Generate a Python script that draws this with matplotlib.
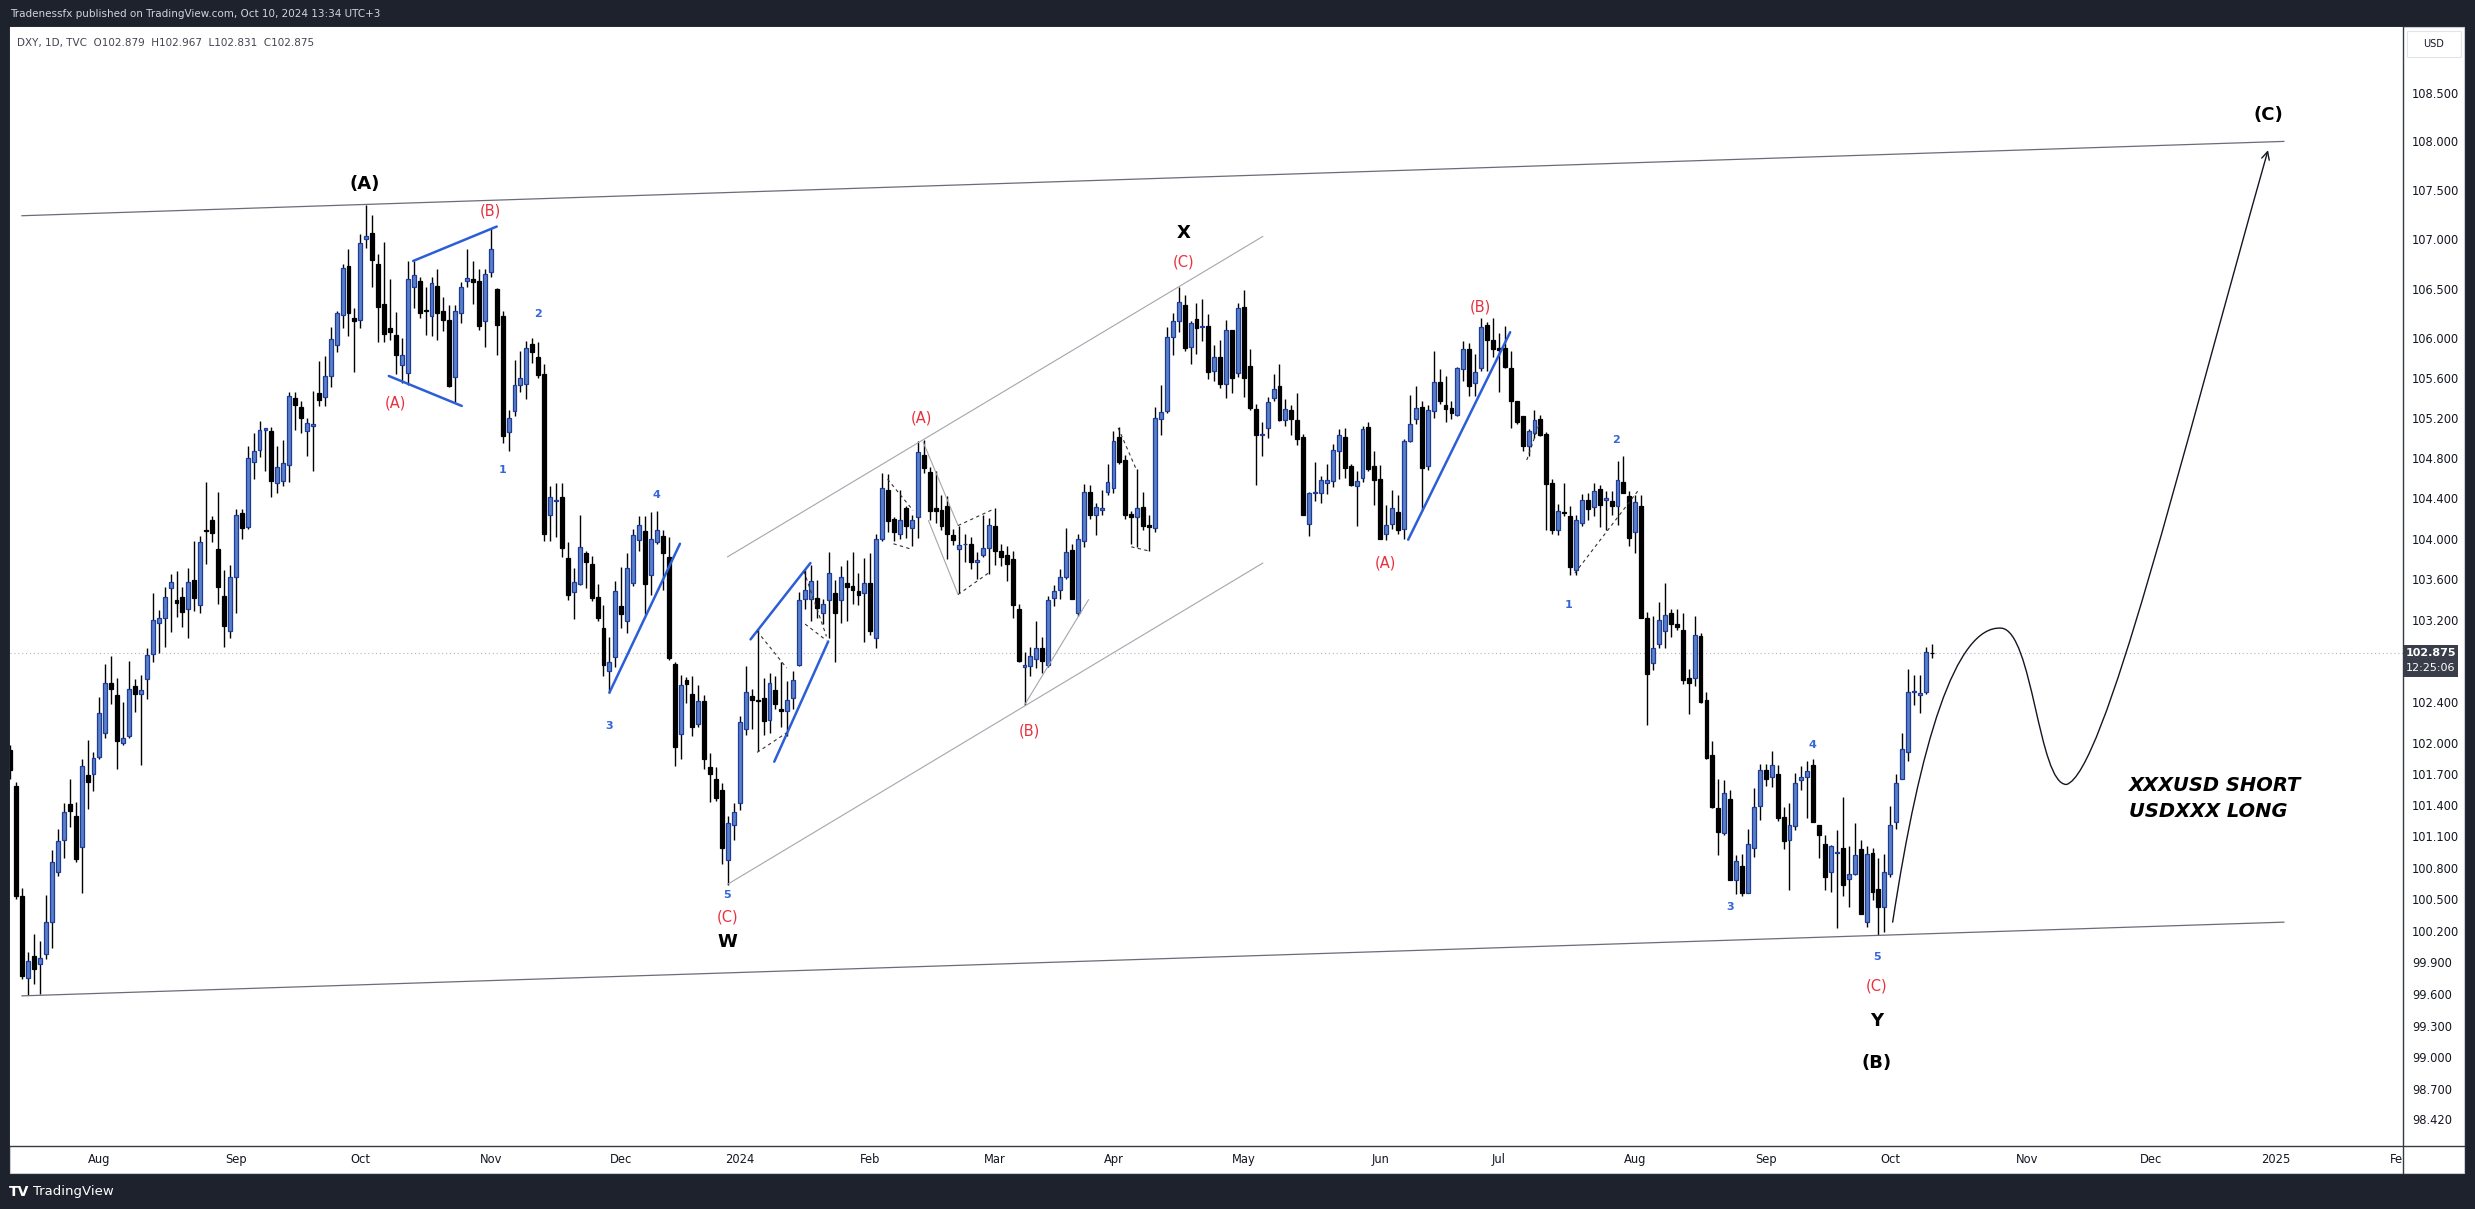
import matplotlib
matplotlib.use("Agg")
import numpy as np
import pandas as pd
import matplotlib.pyplot as plt
from matplotlib.path import Path
from matplotlib.patches import FancyArrowPatch, Rectangle
from matplotlib.lines import Line2D
from matplotlib.ticker import NullLocator
from matplotlib.transforms import IdentityTransform

plt.rcParams['font.family'] = ['DejaVu Sans']

W, H = 2475, 1209

# DXY daily candles, 11 Jul 2023 .. 10 Oct 2024
opens = [
    101.93, 101.59, 100.53, 99.75, 99.96, 99.88, 99.98, 100.28, 100.76, 101.07,
    101.41, 101.30, 101.00, 101.69, 101.70, 101.87, 102.10, 102.58, 102.47, 102.00,
    102.07, 102.55, 102.48, 102.62, 102.87, 103.17, 103.22, 103.51, 103.40, 103.43,
    103.31, 103.59, 103.35, 104.09, 104.18, 103.90, 103.44, 103.09, 103.62, 104.25,
    104.12, 104.76, 104.88, 105.08, 105.07, 104.55, 104.57, 104.73, 105.40, 105.31,
    105.07, 105.12, 105.45, 105.41, 105.62, 105.93, 106.23, 106.73, 106.20, 106.18,
    107.00, 107.06, 106.75, 106.34, 106.10, 106.03, 105.73, 105.65, 106.52, 106.58,
    106.28, 106.22, 106.53, 106.27, 106.18, 105.61, 106.25, 106.58, 106.60, 106.58,
    106.17, 106.67, 106.50, 106.22, 105.06, 105.27, 105.53, 105.54, 105.94, 105.81,
    105.64, 104.23, 104.37, 104.41, 103.81, 103.47, 103.55, 103.86, 103.75, 103.43,
    103.12, 102.70, 102.84, 103.34, 103.19, 103.56, 103.99, 104.08, 103.64, 103.97,
    104.03, 103.82, 102.77, 102.09, 102.61, 102.48, 102.19, 102.41, 101.77, 101.65,
    101.55, 100.87, 101.21, 101.42, 102.14, 102.46, 102.42, 102.44, 102.22, 102.52,
    102.33, 102.31, 102.44, 102.76, 103.41, 103.41, 103.42, 103.27, 103.40, 103.46,
    103.40, 103.56, 103.53, 103.48, 103.46, 103.56, 103.02, 104.00, 104.48, 104.19,
    104.05, 104.30, 104.11, 104.21, 104.83, 104.66, 104.30, 104.28, 104.32, 104.04,
    103.90, 103.95, 103.95, 103.77, 103.84, 103.91, 104.13, 103.88, 103.84, 103.80,
    103.31, 102.74, 102.75, 102.82, 102.93, 102.76, 103.42, 103.49, 103.62, 103.89,
    103.27, 103.98, 104.46, 104.23, 104.28, 104.46, 104.50, 105.01, 104.78, 104.24,
    104.21, 104.31, 104.14, 104.11, 105.19, 105.27, 106.01, 106.17, 106.33, 105.91,
    106.19, 106.11, 106.12, 105.67, 105.81, 105.54, 106.08, 105.65, 106.31, 105.72,
    105.29, 105.03, 105.10, 105.40, 105.52, 105.18, 105.28, 105.18, 105.01, 104.15,
    104.45, 104.45, 104.55, 104.57, 104.87, 105.01, 104.72, 104.52, 104.60, 105.11,
    104.72, 104.59, 104.05, 104.15, 104.26, 104.10, 104.97, 105.19, 105.31, 104.72,
    105.27, 105.56, 105.33, 105.30, 105.23, 105.69, 105.89, 105.55, 105.70, 106.13,
    105.98, 105.90, 105.90, 105.70, 105.37, 105.22, 104.92, 105.05, 105.19, 105.04,
    104.55, 104.09, 104.26, 104.22, 103.69, 104.16, 104.38, 104.31, 104.49, 104.38,
    104.37, 104.32, 104.56, 104.42, 104.07, 104.32, 103.22, 102.78, 102.96, 103.09,
    103.27, 103.16, 103.10, 102.63, 102.63, 103.04, 102.42, 101.88, 101.37, 101.13,
    101.46, 100.68, 100.82, 100.56, 100.99, 101.39, 101.74, 101.67, 101.70, 101.29,
    101.07, 101.20, 101.64, 101.67, 101.79, 101.21, 101.03, 100.76, 100.94, 100.99,
    100.69, 100.74, 100.98, 100.28, 100.94, 100.60, 100.42, 100.74, 101.24, 101.65,
    101.91, 102.50, 102.47, 102.50, 102.879,
]
highs = [
    101.98, 101.62, 100.61, 100.00, 100.17, 100.10, 100.54, 100.97, 101.17, 101.42,
    101.65, 101.43, 101.85, 102.03, 101.91, 102.45, 102.77, 102.85, 102.63, 102.40,
    102.80, 102.62, 102.66, 102.93, 103.46, 103.30, 103.52, 103.65, 103.68, 103.52,
    103.71, 103.98, 104.03, 104.56, 104.22, 104.46, 103.69, 103.74, 104.29, 104.29,
    104.92, 105.05, 105.17, 105.10, 105.11, 104.92, 104.98, 105.46, 105.46, 105.37,
    105.20, 105.47, 105.77, 105.82, 106.11, 106.27, 106.75, 106.90, 106.30, 107.05,
    107.35, 107.25, 106.85, 106.97, 106.60, 106.26, 106.00, 106.78, 106.78, 106.62,
    106.52, 106.62, 106.70, 106.42, 106.33, 106.33, 106.57, 106.90, 106.78, 106.70,
    106.70, 107.12, 106.51, 106.27, 105.28, 105.78, 105.87, 105.97, 106.00, 105.96,
    105.74, 104.52, 104.55, 104.55, 103.97, 103.71, 104.23, 103.88, 103.83, 103.55,
    103.35, 103.03, 103.58, 103.72, 103.86, 104.10, 104.22, 104.22, 104.26, 104.27,
    104.09, 104.02, 102.79, 102.66, 102.64, 102.65, 102.56, 102.47, 101.90, 101.77,
    101.61, 101.30, 101.42, 102.26, 102.75, 102.53, 103.11, 102.63, 102.68, 102.65,
    102.79, 102.60, 102.70, 103.47, 103.69, 103.74, 103.59, 103.41, 103.87, 103.59,
    103.73, 103.79, 103.87, 103.66, 103.81, 103.86, 104.05, 104.65, 104.64, 104.21,
    104.48, 104.32, 104.23, 104.97, 104.98, 104.71, 104.67, 104.43, 104.42, 104.10,
    104.13, 104.05, 104.02, 103.87, 104.23, 104.20, 104.30, 103.95, 103.93, 103.88,
    103.36, 102.89, 102.94, 103.19, 103.03, 103.44, 103.54, 103.70, 104.11, 103.95,
    104.05, 104.54, 104.53, 104.35, 104.48, 104.74, 105.07, 105.11, 104.83, 104.27,
    104.69, 104.46, 104.23, 105.31, 105.53, 106.11, 106.25, 106.52, 106.44, 106.17,
    106.35, 106.40, 106.24, 105.93, 105.98, 106.18, 106.08, 106.35, 106.49, 105.89,
    105.34, 105.16, 105.41, 105.64, 105.74, 105.39, 105.33, 105.45, 105.04, 104.46,
    104.76, 104.62, 104.74, 104.94, 105.09, 105.10, 104.74, 104.67, 105.12, 105.16,
    104.87, 104.73, 104.33, 104.48, 104.43, 104.99, 105.43, 105.52, 105.37, 105.33,
    105.87, 105.69, 105.62, 105.37, 105.71, 105.97, 105.95, 105.84, 106.20, 106.16,
    106.20, 106.05, 106.12, 105.87, 105.37, 105.22, 105.09, 105.28, 105.23, 105.06,
    104.59, 104.34, 104.55, 104.32, 104.23, 104.44, 104.45, 104.55, 104.53, 104.47,
    104.47, 104.77, 104.82, 104.47, 104.43, 104.43, 103.28, 103.24, 103.38, 103.56,
    103.31, 103.31, 103.27, 102.72, 103.24, 103.07, 102.50, 102.02, 101.65, 101.64,
    101.55, 100.92, 100.93, 101.17, 101.57, 101.80, 101.80, 101.92, 101.79, 101.38,
    101.42, 101.71, 101.78, 101.83, 101.85, 101.21, 101.11, 101.02, 101.16, 101.48,
    101.01, 101.23, 101.07, 101.01, 100.99, 100.89, 100.93, 101.39, 101.70, 102.10,
    102.72, 102.66, 102.66, 102.94, 102.967,
]
lows = [
    101.65, 100.50, 99.74, 99.59, 99.69, 99.60, 99.93, 100.03, 100.72, 100.89,
    101.19, 100.85, 100.56, 101.36, 101.54, 101.85, 102.05, 102.38, 101.75, 101.98,
    102.05, 102.30, 101.79, 102.43, 102.79, 102.88, 102.94, 103.08, 103.23, 103.13,
    103.02, 103.29, 103.27, 103.75, 103.97, 103.36, 102.94, 103.02, 103.27, 104.00,
    104.10, 104.59, 104.81, 104.67, 104.41, 104.45, 104.52, 104.56, 105.08, 105.05,
    104.82, 104.67, 105.32, 105.32, 105.51, 105.86, 106.10, 106.02, 105.66, 106.10,
    106.91, 106.52, 105.96, 105.96, 105.98, 105.64, 105.55, 105.53, 106.30, 106.20,
    106.03, 106.02, 105.98, 106.07, 105.51, 105.36, 106.15, 106.52, 106.34, 106.08,
    105.91, 106.62, 105.83, 104.95, 104.87, 105.22, 105.46, 105.39, 105.75, 105.60,
    103.98, 103.98, 104.02, 103.82, 103.40, 103.21, 103.54, 103.51, 103.39, 103.19,
    102.65, 102.49, 102.74, 103.12, 103.07, 103.53, 103.88, 103.26, 103.45, 103.95,
    103.49, 102.81, 101.78, 101.85, 102.39, 102.07, 102.16, 101.75, 101.43, 101.44,
    100.84, 100.63, 101.07, 101.35, 102.08, 102.14, 101.92, 102.08, 102.10, 102.33,
    102.16, 102.07, 102.33, 102.75, 103.31, 103.19, 103.22, 103.16, 103.02, 102.79,
    103.17, 103.19, 103.36, 103.35, 102.98, 103.05, 102.93, 103.98, 104.07, 103.98,
    104.00, 104.01, 103.93, 104.01, 104.65, 104.18, 104.16, 104.09, 103.80, 103.94,
    103.46, 103.77, 103.70, 103.60, 103.82, 103.65, 103.74, 103.73, 103.58, 103.22,
    102.79, 102.37, 102.65, 102.73, 102.68, 102.74, 103.34, 103.41, 103.60, 103.41,
    103.24, 103.92, 104.19, 104.04, 104.23, 104.43, 104.45, 104.74, 104.19, 103.95,
    103.92, 104.09, 103.88, 104.07, 105.03, 105.25, 105.83, 106.06, 105.87, 105.74,
    105.84, 105.97, 105.59, 105.57, 105.50, 105.40, 105.45, 105.61, 105.41, 105.28,
    104.53, 104.82, 105.00, 105.37, 105.17, 105.12, 105.03, 104.93, 104.23, 104.03,
    104.37, 104.35, 104.44, 104.51, 104.59, 104.60, 104.52, 104.13, 104.56, 104.67,
    104.33, 104.00, 103.99, 104.10, 104.05, 104.00, 104.96, 105.14, 104.27, 104.68,
    105.20, 105.34, 105.16, 105.19, 105.22, 105.57, 105.42, 105.42, 105.67, 105.67,
    105.81, 105.46, 105.70, 105.10, 105.14, 104.87, 104.82, 105.00, 105.02, 104.09,
    104.05, 104.04, 104.22, 103.64, 103.64, 104.13, 104.18, 104.22, 104.12, 104.09,
    104.23, 104.14, 104.45, 103.93, 103.86, 103.22, 102.18, 102.71, 102.93, 102.93,
    103.03, 103.10, 102.57, 102.28, 102.55, 102.39, 101.85, 101.37, 100.92, 101.11,
    100.68, 100.55, 100.53, 100.56, 100.90, 101.26, 101.59, 101.58, 101.25, 100.98,
    100.59, 101.16, 101.55, 101.28, 101.24, 100.89, 100.59, 100.57, 100.22, 100.53,
    100.42, 100.73, 100.36, 100.23, 100.49, 100.16, 100.19, 100.71, 101.17, 101.65,
    101.83, 102.37, 102.29, 102.48, 102.831,
]
closes = [
    101.74, 100.53, 99.77, 99.91, 99.83, 99.94, 100.28, 100.85, 101.06, 101.33,
    101.34, 100.88, 101.78, 101.62, 101.86, 102.29, 102.58, 102.53, 102.02, 102.05,
    102.53, 102.48, 102.52, 102.86, 103.20, 103.22, 103.43, 103.57, 103.37, 103.28,
    103.57, 103.42, 103.97, 104.08, 104.06, 103.52, 103.14, 103.62, 104.23, 104.11,
    104.80, 104.87, 105.08, 105.10, 104.57, 104.71, 104.75, 105.42, 105.33, 105.20,
    105.15, 105.14, 105.38, 105.62, 105.99, 106.25, 106.71, 106.25, 106.17, 106.96,
    107.03, 106.79, 106.31, 106.04, 106.06, 105.83, 105.83, 106.60, 106.64, 106.25,
    106.27, 106.56, 106.25, 106.18, 105.52, 106.27, 106.52, 106.61, 106.57, 106.12,
    106.65, 106.90, 106.13, 105.02, 105.20, 105.53, 105.60, 105.90, 105.86, 105.63,
    104.05, 104.41, 104.38, 103.91, 103.45, 103.57, 103.92, 103.77, 103.42, 103.22,
    102.76, 102.79, 103.48, 103.26, 103.71, 104.04, 104.14, 103.55, 104.00, 104.09,
    103.86, 102.83, 101.96, 102.56, 102.57, 102.16, 102.41, 101.85, 101.70, 101.47,
    100.99, 101.23, 101.33, 102.20, 102.50, 102.42, 102.41, 102.21, 102.58, 102.38,
    102.31, 102.42, 102.61, 103.40, 103.49, 103.58, 103.32, 103.36, 103.66, 103.27,
    103.62, 103.52, 103.49, 103.45, 103.56, 103.09, 104.00, 104.50, 104.17, 104.07,
    104.18, 104.13, 104.18, 104.86, 104.70, 104.27, 104.27, 104.13, 104.05, 103.99,
    103.94, 103.95, 103.77, 103.79, 103.91, 104.14, 103.88, 103.82, 103.75, 103.35,
    102.80, 102.76, 102.85, 102.93, 102.80, 103.40, 103.48, 103.62, 103.87, 103.41,
    104.00, 104.46, 104.23, 104.31, 104.30, 104.56, 104.97, 104.76, 104.23, 104.21,
    104.30, 104.13, 104.12, 105.20, 105.26, 106.01, 106.17, 106.36, 105.90, 106.15,
    106.10, 106.12, 105.66, 105.81, 105.54, 106.08, 105.60, 106.30, 105.60, 105.30,
    105.03, 105.04, 105.36, 105.49, 105.18, 105.29, 105.19, 104.99, 104.23, 104.45,
    104.46, 104.58, 104.58, 104.88, 105.03, 104.70, 104.53, 104.57, 105.09, 104.69,
    104.58, 104.00, 104.14, 104.30, 104.09, 104.97, 105.14, 105.30, 104.70, 105.28,
    105.56, 105.37, 105.29, 105.25, 105.70, 105.89, 105.52, 105.66, 106.11, 105.98,
    105.89, 105.88, 105.71, 105.37, 105.16, 104.92, 105.07, 105.18, 105.03, 104.54,
    104.09, 104.27, 104.25, 103.72, 104.18, 104.38, 104.29, 104.47, 104.33, 104.40,
    104.32, 104.58, 104.45, 104.01, 104.36, 103.22, 102.67, 102.93, 103.20, 103.25,
    103.16, 103.13, 102.61, 102.58, 103.05, 102.40, 101.86, 101.38, 101.14, 101.52,
    100.68, 100.86, 100.56, 101.03, 101.38, 101.74, 101.65, 101.79, 101.28, 101.06,
    101.21, 101.61, 101.67, 101.73, 101.24, 101.11, 100.71, 101.01, 100.95, 100.63,
    100.74, 100.92, 100.36, 100.93, 100.57, 100.42, 100.76, 101.21, 101.61, 101.94,
    102.50, 102.51, 102.49, 102.89, 102.875,
]

# trading calendar, days TradingView leaves out for DXY
skip_days = ["2023-12-25", "2024-01-01", "2024-03-29", "2024-12-25", "2025-01-01", "2025-01-20"]

price_ticks = [108.5, 108.0, 107.5, 107.0, 106.5, 106.0, 105.6, 105.2, 104.8, 104.4,
               104.0, 103.6, 103.2, 102.4, 102.0, 101.7, 101.4, 101.1, 100.8, 100.5,
               100.2, 99.9, 99.6, 99.3, 99.0, 98.7, 98.42]

# elliott wave labels: (text, bar index, price)
labels_black = [("(A)", 59.7, 107.56), ("X", 197.9, 107.06), ("W", 120.9, 100.09),
                ("Y", 314.7, 99.34), ("(B)", 314.7, 98.95), ("(C)", 380.7, 108.27)]
labels_red = [("(B)", 81.0, 107.29), ("(A)", 65.0, 105.35), ("(C)", 120.9, 100.33),
              ("(A)", 153.7, 105.20), ("(B)", 171.8, 102.12), ("(C)", 197.9, 106.77),
              ("(A)", 231.9, 103.76), ("(B)", 247.9, 106.31), ("(C)", 314.7, 99.67)]
labels_blue = [("1", 82.9, 104.68), ("2", 89.0, 106.24), ("3", 101.0, 102.17),
               ("4", 109.0, 104.43), ("5", 120.9, 100.54), ("1", 262.8, 103.35),
               ("2", 270.8, 104.98), ("3", 290.0, 100.42), ("4", 303.8, 101.98),
               ("5", 314.7, 99.95)]

# drawn trend lines: ((bar, price), (bar, price))
big_channel = [((1.9, 107.24), (383.4, 108.00)), ((1.9, 99.58), (383.4, 100.28))]
inner_channel = [((120.9, 103.82), (211.2, 107.03)), ((120.9, 100.64), (211.2, 103.76)),
                 ((153.9, 104.96), (159.8, 104.13)), ((154.8, 104.18), (159.8, 103.45)),
                 ((171.0, 102.37), (181.8, 103.40))]
blue_lines = [((67.9, 106.78), (82.0, 107.13)), ((63.8, 105.62), (76.1, 105.32)),
              ((101.0, 102.49), (112.9, 103.95)), ((124.8, 103.01), (134.9, 103.76)),
              ((128.8, 101.82), (137.9, 102.99)), ((235.7, 103.99), (252.9, 106.06))]
dashed_lines = [((125.9, 103.09), (130.9, 102.73)), ((125.9, 101.91), (130.9, 102.10)),
                ((133.8, 103.68), (137.6, 103.04)), ((134.0, 103.16), (137.6, 103.00)),
                ((147.9, 104.59), (152.2, 104.28)), ((148.9, 103.95), (151.7, 103.90)),
                ((159.8, 104.13), (165.7, 104.29)), ((159.8, 103.45), (164.9, 103.66)),
                ((186.8, 105.10), (189.9, 104.68)), ((189.0, 103.92), (191.9, 103.88)),
                ((263.8, 103.66), (274.4, 104.47)), ((255.7, 104.78), (257.8, 105.14))]
# projected path (cubic bezier control points)
projection = [(317.4, 100.28), (322, 102.0), (328, 103.15), (335.7, 103.12),
              (341, 103.1), (342, 101.6), (346.7, 101.6),
              (353, 101.7), (366, 104.8), (380.7, 107.91)]


def fx(x):
    return x / W


def fy(y):
    return 1 - y / H


dates = pd.bdate_range("2023-07-11", "2025-02-28")
dates = dates[~dates.isin(pd.to_datetime(skip_days))]
month_pos, month_lab = [], []
for i in range(1, len(dates)):
    if dates[i].month != dates[i - 1].month:
        month_pos.append(i)
        month_lab.append(str(dates[i].year) if dates[i].month == 1 else dates[i].strftime("%b"))

o = np.array(opens)
c = np.array(closes)
h = np.maximum(np.array(highs), np.maximum(o, c))
l = np.minimum(np.array(lows), np.minimum(o, c))
x = np.arange(len(c))
up = c >= o

fig = plt.figure(figsize=(W / 100, H / 100), dpi=100, facecolor="#1e222d")
fig.patches.append(Rectangle((fx(10), fy(1173)), (2464 - 10) / W, (1173 - 27) / H,
                             transform=fig.transFigure, fc="white", ec="#c9ccd4", lw=0.8, zorder=-5))

ax = fig.add_axes([fx(10), fy(1146), (2403 - 10) / W, (1146 - 27) / H])
ax.set_facecolor("white")
ax.set_yscale("log")
ax.set_ylim(98.17, 109.18)
ax.set_xlim(-0.08, 403.46)
for s in ax.spines.values():
    s.set_visible(False)

# candles
ax.vlines(x, l, h, color="black", lw=1.0, zorder=2)
body_lo = np.minimum(o, c)
body_h = np.abs(c - o)
ax.bar(x[up], body_h[up], bottom=body_lo[up], width=0.66, color="#5b80c4",
       edgecolor="#1d3c9c", lw=0.9, zorder=3)
ax.bar(x[~up], body_h[~up], bottom=body_lo[~up], width=0.66, color="black",
       edgecolor="black", lw=0.9, zorder=3)

# last price line
ax.axhline(closes[-1], color="#b2b5be", lw=0.8, ls=(0, (1, 2.5)), zorder=1)

# axes ticks
ax.yaxis.tick_right()
ax.yaxis.set_minor_locator(NullLocator())
ax.set_yticks(price_ticks)
ax.set_yticklabels([f"{v:.3f}" for v in price_ticks])
ax.tick_params(axis="y", which="both", length=0, pad=6.5, labelsize=8.3, labelcolor="#131722")
ax.set_xticks(month_pos)
ax.set_xticklabels(month_lab)
ax.tick_params(axis="x", length=0, pad=5, labelsize=8.3, labelcolor="#131722")


def draw_lines(segs, **kw):
    for (x0, y0), (x1, y1) in segs:
        ax.plot([x0, x1], [y0, y1], solid_capstyle="round", **kw)


draw_lines(big_channel, color="#6a6d78", lw=0.9, zorder=4)
draw_lines(inner_channel, color="#a3a6ae", lw=0.8, zorder=4)
draw_lines(blue_lines, color="#2c5ed8", lw=1.8, zorder=4)
draw_lines(dashed_lines, color="#333333", lw=0.8, ls=(0, (3, 3)), zorder=4)

codes = [Path.MOVETO] + [Path.CURVE4] * (len(projection) - 1)
ax.add_patch(FancyArrowPatch(path=Path(projection, codes), arrowstyle="->",
                             mutation_scale=14, color="#131722", lw=1.0, zorder=4))

for t, bx, py in labels_black:
    ax.text(bx, py, t, ha="center", va="center", fontsize=13, fontweight="bold",
            color="black", zorder=5)
for t, bx, py in labels_red:
    ax.text(bx, py, t, ha="center", va="center", fontsize=10.5, color="#e8313f", zorder=5)
for t, bx, py in labels_blue:
    ax.text(bx, py, t, ha="center", va="center", fontsize=8, fontweight="bold",
            color="#3565d9", zorder=5)

ax.text(357.3, 101.59, "XXXUSD SHORT", ha="left", va="center", fontsize=14,
        fontweight="bold", fontstyle="italic", color="black", zorder=5)
ax.text(357.3, 101.34, "USDXXX LONG", ha="left", va="center", fontsize=14,
        fontweight="bold", fontstyle="italic", color="black", zorder=5)

# frame pieces
fig.patches.append(Rectangle((fx(2403), fy(1173)), 61 / W, 27 / H, transform=fig.transFigure,
                             fc="white", ec="none", zorder=5))
fig.lines.append(Line2D([fx(2403), fx(2403)], [fy(27), fy(1173)], transform=fig.transFigure,
                        color="#363a45", lw=1.0, zorder=6))
fig.lines.append(Line2D([fx(10), fx(2464)], [fy(1146), fy(1146)], transform=fig.transFigure,
                        color="#363a45", lw=1.0, zorder=6))

# USD box
fig.patches.append(Rectangle((fx(2407), fy(57)), 54 / W, 26 / H, transform=fig.transFigure,
                             fc="white", ec="#e0e3eb", lw=0.8, zorder=6))
fig.text(fx(2434), fy(44), "USD", ha="center", va="center", fontsize=7, color="#131722", zorder=7)

# last price tag
fig.canvas.draw()
yd = ax.transData.transform((0, closes[-1]))[1]
fig.patches.append(Rectangle((2404, yd - 24), 54, 32, transform=IdentityTransform(),
                             fc="#3a3e4a", ec="none", zorder=6))
fig.text(2431 / W, (yd) / H, f"{closes[-1]:.3f}", ha="center", va="center", fontsize=8,
         fontweight="bold", color="white", zorder=7)
fig.text(2431 / W, (yd - 15) / H, "12:25:06", ha="center", va="center", fontsize=8,
         color="white", zorder=7)

# header texts
fig.text(fx(10), fy(14), "Tradenessfx published on TradingView.com, Oct 10, 2024 13:34 UTC+3",
         ha="left", va="center", fontsize=7.5, color="#d1d4dc")
fig.text(fx(17), fy(43),
         f"DXY, 1D, TVC  O{opens[-1]:.3f}  H{highs[-1]:.3f}  L{lows[-1]:.3f}  C{closes[-1]:.3f}",
         ha="left", va="center", fontsize=7.5, color="#434651", zorder=7)
fig.text(fx(9), fy(1192), "TV", ha="left", va="center", fontsize=10, fontweight="heavy",
         color="white")
fig.text(fx(33), fy(1192), "TradingView", ha="left", va="center", fontsize=9.5, color="white")

fig.savefig("out.png", dpi=100, facecolor=fig.get_facecolor())
